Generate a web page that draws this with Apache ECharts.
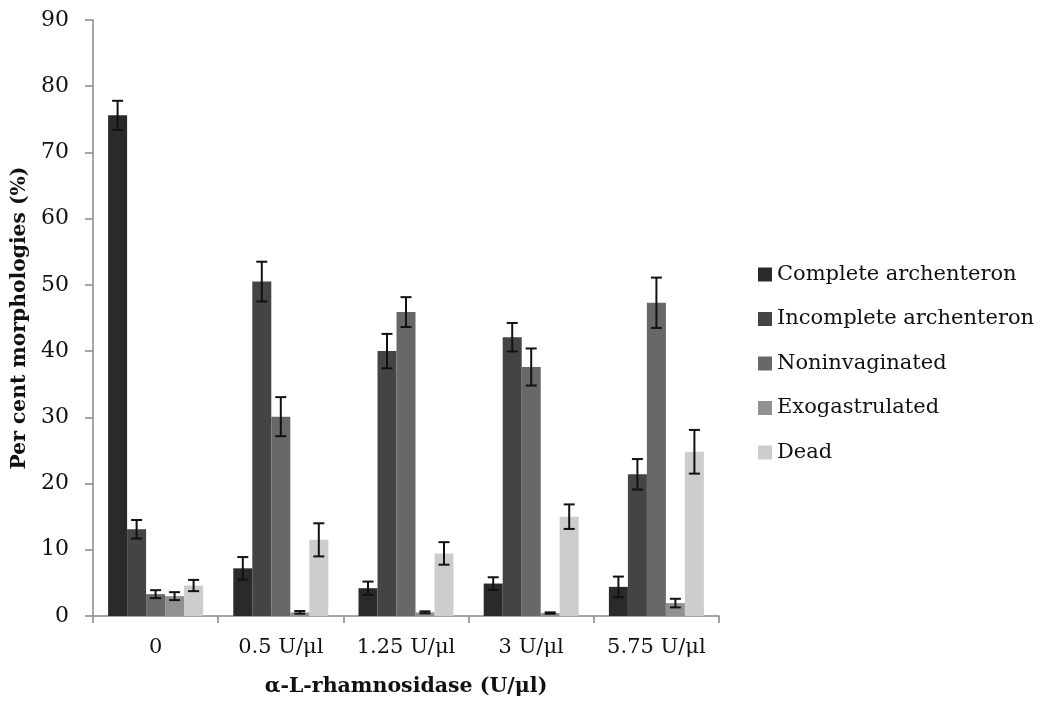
<!DOCTYPE html>
<html><head><meta charset="utf-8">
<script src="https://cdn.jsdelivr.net/npm/echarts@6/dist/echarts.min.js"></script>
<style>html,body{margin:0;padding:0;background:#fff}#c{width:1041px;height:702px}</style>
</head><body><div id="c"></div>
<script>
const categories = ['0', '0.5 U/μl', '1.25 U/μl', '3 U/μl', '5.75 U/μl'];
const seriesNames = ['Complete archenteron', 'Incomplete archenteron', 'Noninvaginated', 'Exogastrulated', 'Dead'];
const complete = [75.6, 7.2, 4.2, 4.9, 4.4];
const incomplete = [13.1, 50.5, 40.0, 42.1, 21.4];
const noninvaginated = [3.3, 30.1, 45.9, 37.6, 47.3];
const exogastrulated = [3.0, 0.55, 0.55, 0.45, 1.95];
const dead = [4.6, 11.5, 9.45, 15.0, 24.8];
const errComplete = [2.2, 1.7, 1.0, 0.95, 1.55];
const errIncomplete = [1.4, 3.0, 2.6, 2.15, 2.3];
const errNoninvaginated = [0.6, 2.95, 2.25, 2.8, 3.8];
const errExogastrulated = [0.6, 0.2, 0.15, 0.1, 0.65];
const errDead = [0.85, 2.5, 1.7, 1.85, 3.3];
const yTicks = [0, 10, 20, 30, 40, 50, 60, 70, 80, 90];

const values = [complete, incomplete, noninvaginated, exogastrulated, dead];
const errs = [errComplete, errIncomplete, errNoninvaginated, errExogastrulated, errDead];
const colors = ['#2a2a2a', '#444444', '#686868', '#919191', '#cdcdcd'];
const BW = 19;
const FONT = '"DejaVu Serif", "Liberation Serif", serif';

const chart = echarts.init(document.getElementById('c'), null, {renderer: 'canvas'});
const series = [];
values.forEach((v, i) => {
  series.push({
    name: seriesNames[i], type: 'bar', data: v, barWidth: BW, barGap: '0%',
    itemStyle: {color: colors[i]}, z: 2
  });
});
values.forEach((v, i) => {
  series.push({
    type: 'custom', z: 5, silent: true,
    data: v.map((val, j) => [j, val - errs[i][j], val + errs[i][j]]),
    renderItem: function (params, api) {
      const x = api.value(0);
      const lo = api.coord([x, api.value(1)]);
      const hi = api.coord([x, api.value(2)]);
      const cx = lo[0] + (i - 2) * BW;
      const cap = 5.5;
      const st = {stroke: '#111', lineWidth: 2};
      return {type: 'group', children: [
        {type: 'line', shape: {x1: cx, y1: hi[1], x2: cx, y2: lo[1]}, style: st},
        {type: 'line', shape: {x1: cx - cap, y1: hi[1], x2: cx + cap, y2: hi[1]}, style: st},
        {type: 'line', shape: {x1: cx - cap, y1: lo[1], x2: cx + cap, y2: lo[1]}, style: st}
      ]};
    }
  });
});

chart.setOption({
  animation: false,
  textStyle: {fontFamily: FONT},
  grid: {left: 93, right: 322, top: 20, bottom: 85, containLabel: false},
  legend: {
    data: seriesNames, orient: 'vertical', left: 753, top: 259, itemGap: 23.5,
    itemWidth: 14, itemHeight: 14, icon: 'rect',
    textStyle: {fontFamily: FONT, fontSize: 21, color: '#111'}
  },
  xAxis: {
    type: 'category', data: categories,
    name: 'α-L-rhamnosidase (U/μl)', nameLocation: 'middle', nameGap: 60,
    nameTextStyle: {fontFamily: FONT, fontSize: 20.5, fontWeight: 'bold', color: '#111'},
    axisLine: {lineStyle: {color: '#888', width: 1.5}},
    axisTick: {show: true, length: 7, lineStyle: {color: '#888', width: 1.5}},
    axisLabel: {fontFamily: FONT, fontSize: 21, color: '#111', margin: 21, interval: 0, hideOverlap: false}
  },
  yAxis: {
    type: 'value', min: yTicks[0], max: yTicks[yTicks.length - 1], interval: 10,
    name: 'Per cent morphologies (%)', nameLocation: 'middle', nameGap: 61,
    nameTextStyle: {fontFamily: FONT, fontSize: 20.3, fontWeight: 'bold', color: '#111'},
    axisLine: {show: true, lineStyle: {color: '#888', width: 1.5}},
    axisTick: {show: true, length: 8, lineStyle: {color: '#888', width: 1.5}},
    splitLine: {show: false},
    axisLabel: {fontFamily: FONT, fontSize: 22, color: '#111', margin: 24}
  },
  series: series
});
</script></body></html>
